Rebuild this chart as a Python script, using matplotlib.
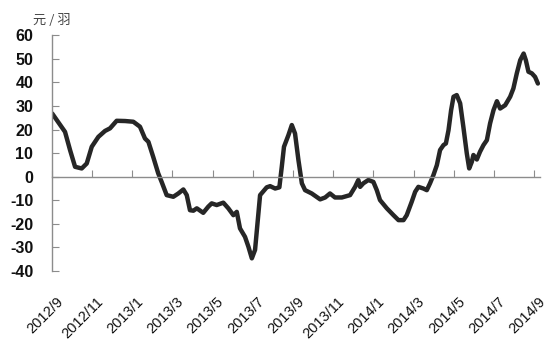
import matplotlib
matplotlib.use("Agg")
import matplotlib.pyplot as plt
import numpy as np

# month offsets since 2012/9 and price spread values (元/羽)
months = [0.01, 0.65, 0.90, 1.15, 1.48, 1.73, 1.98, 2.31, 2.64, 2.89, 3.22, 3.64, 4.05, 4.38,
          4.63, 4.80, 5.04, 5.29, 5.46, 5.71, 6.04, 6.29, 6.54, 6.71, 6.87, 7.04, 7.21, 7.53,
          7.78, 7.95, 8.20, 8.53, 8.78, 9.03, 9.20, 9.36, 9.61, 9.78, 9.95, 10.11, 10.36, 10.69,
          10.86, 11.11, 11.32, 11.44, 11.55, 11.77, 11.94, 12.10, 12.27, 12.44, 12.60, 12.93,
          13.35, 13.60, 13.84, 14.09, 14.43, 14.84, 15.09, 15.25, 15.34, 15.50, 15.75, 16.00,
          16.17, 16.33, 16.67, 17.00, 17.25, 17.50, 17.66, 17.91, 18.08, 18.24, 18.49, 18.66,
          18.82, 18.99, 19.16, 19.32, 19.49, 19.61, 19.74, 19.87, 19.99, 20.15, 20.32, 20.48,
          20.65, 20.77, 20.90, 20.98, 21.15, 21.31, 21.48, 21.65, 21.81, 21.98, 22.15, 22.31,
          22.56, 22.81, 22.97, 23.14, 23.31, 23.48, 23.59, 23.72, 23.89, 24.05, 24.19]
values = [26.8, 19.0, 11.3, 4.2, 3.5, 5.6, 12.7, 16.9, 19.4, 20.5, 23.7, 23.6, 23.3, 21.2,
          16.2, 14.8, 8.4, 1.4, -2.2, -7.8, -8.5, -7.1, -5.4, -7.8, -14.2, -14.4, -13.4, -15.3,
          -12.7, -11.3, -12.0, -11.0, -13.4, -16.3, -14.9, -21.9, -25.5, -29.7, -34.6, -31.0,
          -7.8, -4.5, -4.0, -5.0, -4.5, 4.2, 12.7, 17.6, 21.9, 18.3, 7.0, -2.8, -5.7, -7.1,
          -9.6, -8.8, -7.1, -8.8, -8.8, -7.8, -4.3, -1.4, -4.3, -2.8, -1.4, -2.2,
          -5.7, -9.9, -13.4, -16.3, -18.4, -18.4, -16.3, -10.6, -6.4, -4.3, -5.0, -5.7,
          -2.8, 0.7, 4.9, 11.3, 13.4, 14.1, 19.7, 28.2, 33.9, 34.6, 31.1, 21.1,
          9.9, 3.5, 6.3, 9.2, 7.3, 10.6, 13.4, 15.5, 22.6, 28.2, 32.0, 28.9,
          30.3, 33.9, 37.4, 43.8, 49.4, 52.2, 49.4, 44.5, 43.8, 42.3, 39.5]

tick_months = list(range(0, 25, 2))
tick_labels = ["2012/9", "2012/11", "2013/1", "2013/3", "2013/5", "2013/7", "2013/9",
               "2013/11", "2014/1", "2014/3", "2014/5", "2014/7", "2014/9"]
y_ticks = list(range(-40, 61, 10))
unit_label = "元 / 羽"

fig = plt.figure(figsize=(5.5, 3.48), dpi=100)
ax = fig.add_axes([0.0945, 0.221, 0.8875, 0.678])

ax.plot(months, values, color="#262626", lw=3.2, solid_joinstyle="round", solid_capstyle="round")

ax.set_xlim(0, 24.3)
ax.set_ylim(-40, 60)
spine_col = "#8c8c8c"
for s in ["top", "right"]:
    ax.spines[s].set_visible(False)
ax.spines["left"].set_color(spine_col)
ax.spines["bottom"].set_color(spine_col)
ax.spines["bottom"].set_position(("data", 0))
ax.spines["left"].set_linewidth(1.0)
ax.spines["bottom"].set_linewidth(1.0)

ax.set_yticks(y_ticks)
ax.set_yticklabels([str(v) for v in y_ticks], fontsize=11.5, fontweight="bold",
                   fontfamily="Liberation Sans", color="#111111")
ax.tick_params(axis="y", direction="in", length=5, color=spine_col, pad=13.5)
ax.set_xticks(tick_months)
ax.set_xticklabels([])
ax.tick_params(axis="x", direction="in", length=5, color=spine_col)

for m, lab in zip(tick_months, tick_labels):
    ax.text(m + 0.2, -0.1, lab, transform=ax.get_xaxis_transform(), rotation=45,
            rotation_mode="anchor", ha="right", va="top", fontsize=10.5,
            fontfamily="Liberation Sans", color="#111111")

fig.text(33 / 550, 1 - 20 / 348, unit_label, fontsize=9.5, color="#444444",
         fontfamily=["Noto Sans CJK SC", "DejaVu Sans"], va="center", ha="left")

fig.savefig("out.png", dpi=100)
